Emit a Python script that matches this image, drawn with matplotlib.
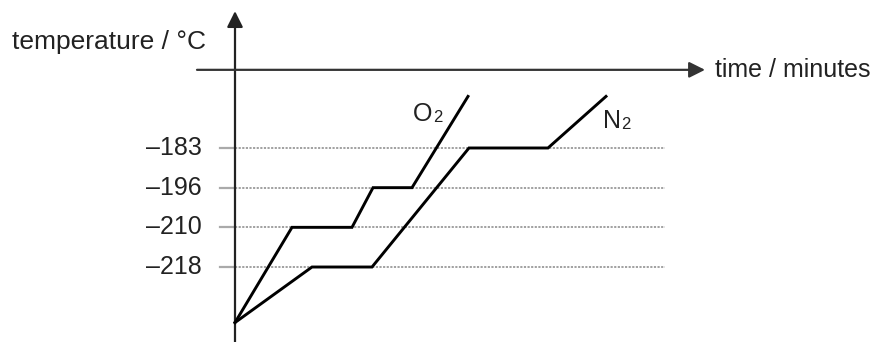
import matplotlib
matplotlib.use('Agg')
import matplotlib.pyplot as plt

plt.rcParams['font.family'] = ['Liberation Sans', 'DejaVu Sans']

# schematic chart: temperatures sit on evenly spaced levels
temp_labels = ['\u2013218', '\u2013210', '\u2013196', '\u2013183']
temp_levels = [1, 2, 3, 4]

# time in arbitrary units, temperature as level
o2_time = [0, 5.7, 11.7, 13.8, 17.7, 23.3]
o2_level = [-0.4, 2, 2, 3, 3, 5.3]
n2_time = [0, 7.7, 13.7, 23.4, 31.3, 37.1]
n2_level = [-0.4, 1, 1, 4, 4, 5.3]

txt = '#222222'
fs = 18

fig = plt.figure(figsize=(8.77, 3.42), dpi=100)
ax = fig.add_axes([0, 0, 1, 1])
ax.set_xlim(-23.5, 64.2)
ax.set_ylim(-0.89, 7.73)
ax.axis('off')

# gridlines and tick marks
for lvl, lab in zip(temp_levels, temp_labels):
    ax.plot([0, 43], [lvl, lvl], color='#9a9a9a', lw=1.3, ls=(0, (1.2, 0.8)), zorder=1)
    ax.plot([-1.5, 0], [lvl, lvl], color='#aaaaaa', lw=1.6, zorder=1)
    ax.text(-3.3, lvl, lab, ha='right', va='center', fontsize=fs, color=txt)

# axes arrows
ax.annotate('', xy=(0, 7.45), xytext=(0, -0.89),
            arrowprops=dict(arrowstyle='-|>', color='#222222', lw=1.6, mutation_scale=24, shrinkA=0, shrinkB=0))
ax.annotate('', xy=(47.0, 5.97), xytext=(-3.8, 5.97),
            arrowprops=dict(arrowstyle='-|>', color='#333333', lw=1.6, mutation_scale=24, shrinkA=0, shrinkB=0))

ax.plot(o2_time, o2_level, color='black', lw=2.1, solid_joinstyle='miter', zorder=3)
ax.plot(n2_time, n2_level, color='black', lw=2.1, solid_joinstyle='miter', zorder=3)

ax.text(-22.3, 6.5, 'temperature / \u00b0C', ha='left', va='baseline', fontsize=19, color=txt)
ax.text(48.0, 5.79, 'time / minutes', ha='left', va='baseline', fontsize=fs, color=txt)

# series labels with small subscript
ax.text(17.8, 4.68, 'O', ha='left', va='baseline', fontsize=fs, color=txt)
ax.text(19.8, 4.66, '2', ha='left', va='baseline', fontsize=12, color=txt)
ax.text(36.8, 4.50, 'N', ha='left', va='baseline', fontsize=fs, color=txt)
ax.text(38.65, 4.48, '2', ha='left', va='baseline', fontsize=12, color=txt)

fig.savefig('out.png', dpi=100)
